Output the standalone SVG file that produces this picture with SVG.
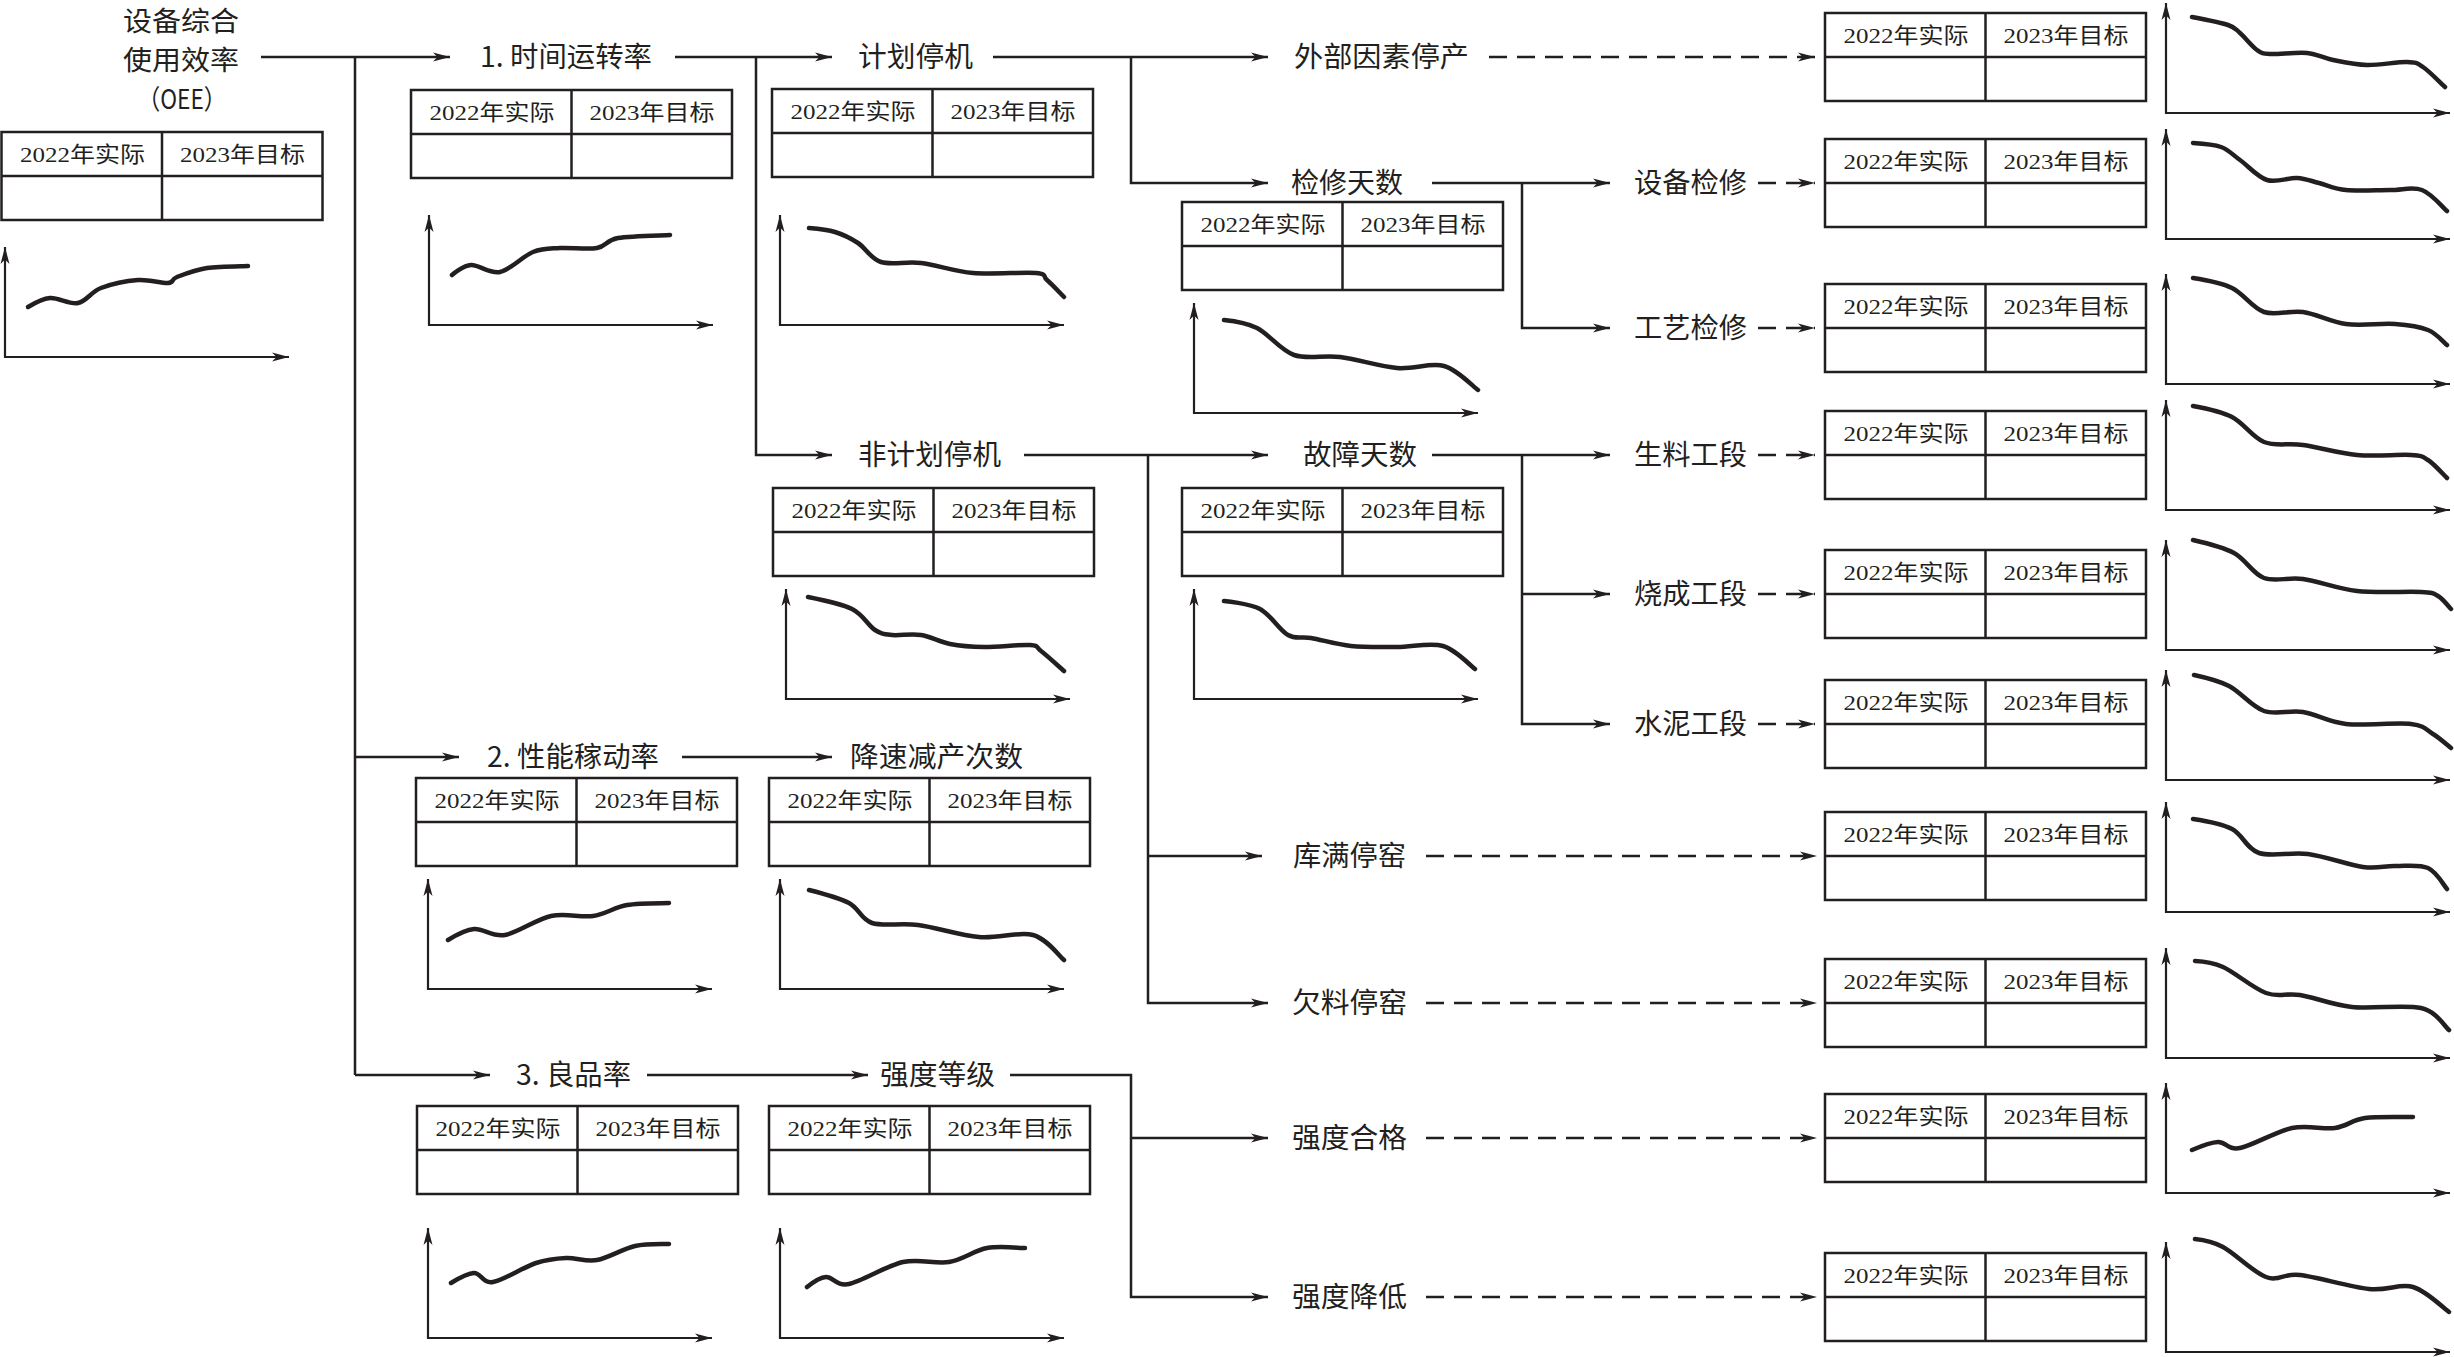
<svg xmlns="http://www.w3.org/2000/svg" width="2454" height="1357" viewBox="0 0 2454 1357">
<style>
.lbl{font-family:"Noto Sans CJK SC","Noto Sans",sans-serif;font-size:28px;fill:#231f20}
.th{font-family:"Liberation Serif","Noto Sans CJK SC",serif;font-size:22px;fill:#231f20;text-anchor:middle}
.ln{fill:none;stroke:#231f20;stroke-width:2.5}
.dash{stroke-dasharray:18 10}
.tb{fill:#fff;stroke:#231f20;stroke-width:2.5}
.tl{fill:none;stroke:#231f20;stroke-width:2.5}
.ax{fill:none;stroke:#231f20;stroke-width:2.2}
.cv{fill:none;stroke:#231f20;stroke-width:4.5;stroke-linecap:round;stroke-linejoin:round}
</style>
<defs>
<marker id="ar" markerUnits="userSpaceOnUse" markerWidth="20" markerHeight="12" refX="17" refY="5" orient="auto-start-reverse">
<path d="M0,0.5 L17,5 L0,9.5 L4.5,5 z" fill="#231f20"/>
</marker>
</defs>
<rect width="2454" height="1357" fill="#fff"/>

<g id="connectors">
<path class="ln" d="M261,57 H450" marker-end="url(#ar)"/>
<path class="ln" d="M355,57 V1075"/>
<path class="ln" d="M355,757 H459" marker-end="url(#ar)"/>
<path class="ln" d="M355,1075 H490" marker-end="url(#ar)"/>
<path class="ln" d="M675,57 H832" marker-end="url(#ar)"/>
<path class="ln" d="M756,57 V455 H832" marker-end="url(#ar)"/>
<path class="ln" d="M993,57 H1268" marker-end="url(#ar)"/>
<path class="ln" d="M1131,57 V183 H1268" marker-end="url(#ar)"/>
<path class="ln dash" d="M1489,57 H1815" marker-end="url(#ar)"/>
<path class="ln" d="M1432,183 H1610" marker-end="url(#ar)"/>
<path class="ln" d="M1522,183 V328 H1610" marker-end="url(#ar)"/>
<path class="ln dash" d="M1758,183 H1815" marker-end="url(#ar)"/>
<path class="ln dash" d="M1758,328 H1815" marker-end="url(#ar)"/>
<path class="ln" d="M1024,455 H1268" marker-end="url(#ar)"/>
<path class="ln" d="M1148,455 V1003 H1268" marker-end="url(#ar)"/>
<path class="ln" d="M1148,856 H1262" marker-end="url(#ar)"/>
<path class="ln" d="M1432,455 H1610" marker-end="url(#ar)"/>
<path class="ln" d="M1522,455 V724 H1610" marker-end="url(#ar)"/>
<path class="ln" d="M1522,594 H1610" marker-end="url(#ar)"/>
<path class="ln dash" d="M1758,455 H1815" marker-end="url(#ar)"/>
<path class="ln dash" d="M1758,594 H1815" marker-end="url(#ar)"/>
<path class="ln dash" d="M1758,724 H1815" marker-end="url(#ar)"/>
<path class="ln dash" d="M1426,856 H1817" marker-end="url(#ar)"/>
<path class="ln dash" d="M1426,1003 H1817" marker-end="url(#ar)"/>
<path class="ln" d="M682,757 H832" marker-end="url(#ar)"/>
<path class="ln" d="M647,1075 H868" marker-end="url(#ar)"/>
<path class="ln" d="M1010,1075 H1131 V1297 H1268" marker-end="url(#ar)"/>
<path class="ln" d="M1131,1138 H1268" marker-end="url(#ar)"/>
<path class="ln dash" d="M1426,1138 H1817" marker-end="url(#ar)"/>
<path class="ln dash" d="M1426,1297 H1817" marker-end="url(#ar)"/>
</g>

<!-- OEE -->
<g id="n-oee">
<text class="lbl" x="181" y="31" text-anchor="middle" style="font-size:27px" textLength="116" lengthAdjust="spacingAndGlyphs">设备综合</text>
<text class="lbl" x="181" y="70" text-anchor="middle" style="font-size:27px" textLength="116" lengthAdjust="spacingAndGlyphs">使用效率</text>
<text class="lbl" x="182" y="109" text-anchor="middle" style="font-size:27px" textLength="89" lengthAdjust="spacingAndGlyphs">（OEE）</text>
<g transform="translate(1.5,132)"><rect class="tb" width="321" height="88"/><path class="tl" d="M0,44 H321 M160.5,0 V88"/><text class="th" x="81" y="30" textLength="125" lengthAdjust="spacingAndGlyphs">2022年实际</text><text class="th" x="241" y="30" textLength="125" lengthAdjust="spacingAndGlyphs">2023年目标</text></g>
<g transform="translate(5,357)"><path class="ax" d="M0,-110 V0 H284" marker-start="url(#ar)" marker-end="url(#ar)"/><path class="cv" d="M23,-50 S36.7,-58.3 45,-59 S64.5,-52.3 73,-54 S86,-65.2 96,-69 S121.8,-76.2 133,-77 S156.5,-73.5 163,-74 S165.5,-77.5 172,-80 S190.2,-87.2 202,-89 S236.2,-90.7 243,-91"/></g>
</g>

<g id="n-time">
<text class="lbl" x="480" y="67" textLength="172" lengthAdjust="spacingAndGlyphs">1. 时间运转率</text>
<g transform="translate(411,90)"><rect class="tb" width="321" height="88"/><path class="tl" d="M0,44 H321 M160.5,0 V88"/><text class="th" x="81" y="30" textLength="125" lengthAdjust="spacingAndGlyphs">2022年实际</text><text class="th" x="241" y="30" textLength="125" lengthAdjust="spacingAndGlyphs">2023年目标</text></g>
<g transform="translate(429,325)"><path class="ax" d="M0,-110 V0 H284" marker-start="url(#ar)" marker-end="url(#ar)"/><path class="cv" d="M23,-50 S34,-59.5 42,-60 S60.7,-50.8 71,-53 S94,-69 104,-73 S120.3,-76.3 131,-77 S158.3,-75.3 168,-77 S176.8,-84.8 189,-87 S232.3,-89.5 241,-90"/></g>
</g>

<g id="n-plan">
<text class="lbl" x="858" y="67" textLength="115" lengthAdjust="spacingAndGlyphs">计划停机</text>
<g transform="translate(772,89)"><rect class="tb" width="321" height="88"/><path class="tl" d="M0,44 H321 M160.5,0 V88"/><text class="th" x="81" y="30" textLength="125" lengthAdjust="spacingAndGlyphs">2022年实际</text><text class="th" x="241" y="30" textLength="125" lengthAdjust="spacingAndGlyphs">2023年目标</text></g>
<g transform="translate(780,325)"><path class="ax" d="M0,-110 V0 H284" marker-start="url(#ar)" marker-end="url(#ar)"/><path class="cv" d="M29,-97 S46.8,-95.5 55,-93 S70.3,-87 78,-82 S90.5,-66.3 101,-63 S125.7,-63.8 141,-62 S173.8,-53.7 193,-52 S243.7,-53.2 256,-52 S262.3,-49 267,-45 S281.2,-30.8 284,-28"/></g>
</g>

<g id="n-ext">
<text class="lbl" x="1294" y="67" textLength="175" lengthAdjust="spacingAndGlyphs">外部因素停产</text>
<g transform="translate(1825,13)"><rect class="tb" width="321" height="88"/><path class="tl" d="M0,44 H321 M160.5,0 V88"/><text class="th" x="81" y="30" textLength="125" lengthAdjust="spacingAndGlyphs">2022年实际</text><text class="th" x="241" y="30" textLength="125" lengthAdjust="spacingAndGlyphs">2023年目标</text></g>
<g transform="translate(2166,113)"><path class="ax" d="M0,-110 V0 H284" marker-start="url(#ar)" marker-end="url(#ar)"/><path class="cv" d="M26,-96 S54,-90.7 62,-88 S69.2,-84.2 74,-80 S86,-66.5 91,-63 S95.7,-59.5 104,-59 S130.5,-61 141,-60 S157,-55 167,-53 S188.7,-48.3 201,-48 S231.7,-51.3 241,-51 S250.7,-50.2 257,-46 S275.3,-29.3 279,-26"/></g>
</g>

<g id="n-maint">
<text class="lbl" x="1291" y="193" textLength="112" lengthAdjust="spacingAndGlyphs">检修天数</text>
<g transform="translate(1182,202)"><rect class="tb" width="321" height="88"/><path class="tl" d="M0,44 H321 M160.5,0 V88"/><text class="th" x="81" y="30" textLength="125" lengthAdjust="spacingAndGlyphs">2022年实际</text><text class="th" x="241" y="30" textLength="125" lengthAdjust="spacingAndGlyphs">2023年目标</text></g>
<g transform="translate(1194,413)"><path class="ax" d="M0,-110 V0 H284" marker-start="url(#ar)" marker-end="url(#ar)"/><path class="cv" d="M30,-93 S51.3,-90.8 63,-85 S86.2,-62.8 100,-58 S128.8,-58.2 146,-56 S185.7,-46.5 203,-45 S236.5,-50.7 250,-47 S278.3,-27 284,-23"/></g>
</g>

<g id="n-equip">
<text class="lbl" x="1634" y="193" textLength="113" lengthAdjust="spacingAndGlyphs">设备检修</text>
<g transform="translate(1825,139)"><rect class="tb" width="321" height="88"/><path class="tl" d="M0,44 H321 M160.5,0 V88"/><text class="th" x="81" y="30" textLength="125" lengthAdjust="spacingAndGlyphs">2022年实际</text><text class="th" x="241" y="30" textLength="125" lengthAdjust="spacingAndGlyphs">2023年目标</text></g>
<g transform="translate(2166,239)"><path class="ax" d="M0,-110 V0 H284" marker-start="url(#ar)" marker-end="url(#ar)"/><path class="cv" d="M27,-96 S47.2,-94.8 55,-92 S66.3,-84.5 74,-79 S91.5,-62 101,-59 S122.3,-61.5 131,-61 S144.8,-58 153,-56 S168.2,-50.2 180,-49 S211.3,-49 224,-49 S246.5,-52.5 256,-49 S276.8,-31.5 281,-28"/></g>
</g>

<g id="n-proc">
<text class="lbl" x="1634" y="338" textLength="113" lengthAdjust="spacingAndGlyphs">工艺检修</text>
<g transform="translate(1825,284)"><rect class="tb" width="321" height="88"/><path class="tl" d="M0,44 H321 M160.5,0 V88"/><text class="th" x="81" y="30" textLength="125" lengthAdjust="spacingAndGlyphs">2022年实际</text><text class="th" x="241" y="30" textLength="125" lengthAdjust="spacingAndGlyphs">2023年目标</text></g>
<g transform="translate(2166,384)"><path class="ax" d="M0,-110 V0 H284" marker-start="url(#ar)" marker-end="url(#ar)"/><path class="cv" d="M27,-106 S54.2,-101.7 66,-96 S86.2,-76 98,-72 S123.3,-74 137,-72 S164.7,-62 180,-60 S215.3,-61 229,-60 S253.3,-57.5 262,-54 S277.8,-41.5 281,-39"/></g>
</g>

<g id="n-unplan">
<text class="lbl" x="858" y="465" textLength="143" lengthAdjust="spacingAndGlyphs">非计划停机</text>
<g transform="translate(773,488)"><rect class="tb" width="321" height="88"/><path class="tl" d="M0,44 H321 M160.5,0 V88"/><text class="th" x="81" y="30" textLength="125" lengthAdjust="spacingAndGlyphs">2022年实际</text><text class="th" x="241" y="30" textLength="125" lengthAdjust="spacingAndGlyphs">2023年目标</text></g>
<g transform="translate(786,699)"><path class="ax" d="M0,-110 V0 H284" marker-start="url(#ar)" marker-end="url(#ar)"/><path class="cv" d="M22,-102 S54.8,-95.5 66,-90 S82.3,-73.3 89,-69 S98.3,-64.8 106,-64 S125.3,-65.5 135,-64 S153.5,-57 164,-55 S184.7,-52.2 198,-52 S234.5,-54.7 244,-54 S249.3,-52.3 255,-48 S274.2,-31.3 278,-28"/></g>
</g>

<g id="n-fault">
<text class="lbl" x="1303" y="465" textLength="114" lengthAdjust="spacingAndGlyphs">故障天数</text>
<g transform="translate(1182,488)"><rect class="tb" width="321" height="88"/><path class="tl" d="M0,44 H321 M160.5,0 V88"/><text class="th" x="81" y="30" textLength="125" lengthAdjust="spacingAndGlyphs">2022年实际</text><text class="th" x="241" y="30" textLength="125" lengthAdjust="spacingAndGlyphs">2023年目标</text></g>
<g transform="translate(1194,699)"><path class="ax" d="M0,-110 V0 H284" marker-start="url(#ar)" marker-end="url(#ar)"/><path class="cv" d="M30,-98 S55.3,-95.7 66,-90 S85.5,-68.8 94,-64 S106.5,-62.8 117,-61 S142.7,-54.5 157,-53 S187.7,-52 203,-52 S236,-56.7 249,-53 S275.7,-33.8 281,-30"/></g>
</g>

<g id="n-raw">
<text class="lbl" x="1634" y="465" textLength="113" lengthAdjust="spacingAndGlyphs">生料工段</text>
<g transform="translate(1825,411)"><rect class="tb" width="321" height="88"/><path class="tl" d="M0,44 H321 M160.5,0 V88"/><text class="th" x="81" y="30" textLength="125" lengthAdjust="spacingAndGlyphs">2022年实际</text><text class="th" x="241" y="30" textLength="125" lengthAdjust="spacingAndGlyphs">2023年目标</text></g>
<g transform="translate(2166,510)"><path class="ax" d="M0,-110 V0 H284" marker-start="url(#ar)" marker-end="url(#ar)"/><path class="cv" d="M27,-104 S54.2,-99 66,-93 S86.2,-72.7 98,-68 S121.5,-67.2 137,-65 S173,-56.7 191,-55 S233.2,-55.8 245,-55 S256,-53.8 262,-50 S277.8,-35 281,-32"/></g>
</g>

<g id="n-burn">
<text class="lbl" x="1634" y="604" textLength="113" lengthAdjust="spacingAndGlyphs">烧成工段</text>
<g transform="translate(1825,550)"><rect class="tb" width="321" height="88"/><path class="tl" d="M0,44 H321 M160.5,0 V88"/><text class="th" x="81" y="30" textLength="125" lengthAdjust="spacingAndGlyphs">2022年实际</text><text class="th" x="241" y="30" textLength="125" lengthAdjust="spacingAndGlyphs">2023年目标</text></g>
<g transform="translate(2166,650)"><path class="ax" d="M0,-110 V0 H284" marker-start="url(#ar)" marker-end="url(#ar)"/><path class="cv" d="M27,-110 S56.2,-103.3 68,-97 S86.5,-76.3 98,-72 S121.5,-73.2 137,-71 S171.3,-61.2 191,-59 S241.5,-58.8 255,-58 S267,-56.8 272,-54 S282.8,-43.2 285,-41"/></g>
</g>

<g id="n-cement">
<text class="lbl" x="1634" y="734" textLength="113" lengthAdjust="spacingAndGlyphs">水泥工段</text>
<g transform="translate(1825,680)"><rect class="tb" width="321" height="88"/><path class="tl" d="M0,44 H321 M160.5,0 V88"/><text class="th" x="81" y="30" textLength="125" lengthAdjust="spacingAndGlyphs">2022年实际</text><text class="th" x="241" y="30" textLength="125" lengthAdjust="spacingAndGlyphs">2023年目标</text></g>
<g transform="translate(2166,780)"><path class="ax" d="M0,-110 V0 H284" marker-start="url(#ar)" marker-end="url(#ar)"/><path class="cv" d="M28,-105 S51.3,-100 63,-94 S85.7,-73.3 98,-69 S123.3,-70.2 137,-68 S162,-58 180,-56 S230.5,-57.7 245,-56 S260.3,-50 267,-46 S282,-34.3 285,-32"/></g>
</g>

<g id="n-full">
<text class="lbl" x="1293" y="866" textLength="113" lengthAdjust="spacingAndGlyphs">库满停窑</text>
<g transform="translate(1825,812)"><rect class="tb" width="321" height="88"/><path class="tl" d="M0,44 H321 M160.5,0 V88"/><text class="th" x="81" y="30" textLength="125" lengthAdjust="spacingAndGlyphs">2022年实际</text><text class="th" x="241" y="30" textLength="125" lengthAdjust="spacingAndGlyphs">2023年目标</text></g>
<g transform="translate(2166,912)"><path class="ax" d="M0,-110 V0 H284" marker-start="url(#ar)" marker-end="url(#ar)"/><path class="cv" d="M27,-93 S55,-88.7 66,-83 S80.3,-63.2 93,-59 S124.7,-60.3 142,-58 S182.5,-47 197,-45 S218.2,-46.2 229,-46 S253.3,-47.8 262,-44 S277.8,-26.5 281,-23"/></g>
</g>

<g id="n-short">
<text class="lbl" x="1292" y="1013" textLength="115" lengthAdjust="spacingAndGlyphs">欠料停窑</text>
<g transform="translate(1825,959)"><rect class="tb" width="321" height="88"/><path class="tl" d="M0,44 H321 M160.5,0 V88"/><text class="th" x="81" y="30" textLength="125" lengthAdjust="spacingAndGlyphs">2022年实际</text><text class="th" x="241" y="30" textLength="125" lengthAdjust="spacingAndGlyphs">2023年目标</text></g>
<g transform="translate(2166,1058)"><path class="ax" d="M0,-110 V0 H284" marker-start="url(#ar)" marker-end="url(#ar)"/><path class="cv" d="M29,-97 S45.2,-96.3 57,-91 S87.2,-69.7 100,-65 S119.7,-65.3 134,-63 S165.8,-53.2 186,-51 S238.8,-53.8 255,-50 S278.3,-31.7 283,-28"/></g>
</g>

<g id="n-perf">
<text class="lbl" x="487" y="767" textLength="172" lengthAdjust="spacingAndGlyphs">2. 性能稼动率</text>
<g transform="translate(416,778)"><rect class="tb" width="321" height="88"/><path class="tl" d="M0,44 H321 M160.5,0 V88"/><text class="th" x="81" y="30" textLength="125" lengthAdjust="spacingAndGlyphs">2022年实际</text><text class="th" x="241" y="30" textLength="125" lengthAdjust="spacingAndGlyphs">2023年目标</text></g>
<g transform="translate(428,989)"><path class="ax" d="M0,-110 V0 H284" marker-start="url(#ar)" marker-end="url(#ar)"/><path class="cv" d="M20,-49 S36.5,-59.2 46,-60 S64.2,-51.8 77,-54 S108.3,-69.8 123,-73 S152.3,-71.2 165,-73 S186.3,-81.8 199,-84 S234,-85.7 241,-86"/></g>
</g>

<g id="n-slow">
<text class="lbl" x="850" y="767" textLength="173" lengthAdjust="spacingAndGlyphs">降速减产次数</text>
<g transform="translate(769,778)"><rect class="tb" width="321" height="88"/><path class="tl" d="M0,44 H321 M160.5,0 V88"/><text class="th" x="81" y="30" textLength="125" lengthAdjust="spacingAndGlyphs">2022年实际</text><text class="th" x="241" y="30" textLength="125" lengthAdjust="spacingAndGlyphs">2023年目标</text></g>
<g transform="translate(780,989)"><path class="ax" d="M0,-110 V0 H284" marker-start="url(#ar)" marker-end="url(#ar)"/><path class="cv" d="M29,-99 S58.5,-91.5 69,-86 S80.5,-69.7 92,-66 S120.2,-66.3 138,-64 S179.8,-53.7 199,-52 S238.8,-57.8 253,-54 S278.8,-33.2 284,-29"/></g>
</g>

<g id="n-qual">
<text class="lbl" x="516" y="1085" textLength="115" lengthAdjust="spacingAndGlyphs">3. 良品率</text>
<g transform="translate(417,1106)"><rect class="tb" width="321" height="88"/><path class="tl" d="M0,44 H321 M160.5,0 V88"/><text class="th" x="81" y="30" textLength="125" lengthAdjust="spacingAndGlyphs">2022年实际</text><text class="th" x="241" y="30" textLength="125" lengthAdjust="spacingAndGlyphs">2023年目标</text></g>
<g transform="translate(428,1338)"><path class="ax" d="M0,-110 V0 H284" marker-start="url(#ar)" marker-end="url(#ar)"/><path class="cv" d="M23,-55 S39,-64.8 46,-65 S54.7,-54.3 65,-56 S95.8,-71 108,-75 S127.8,-79.5 138,-80 S157.5,-76 169,-78 S195,-89.3 207,-92 S235.3,-93.7 241,-94"/></g>
</g>

<g id="n-grade">
<text class="lbl" x="880" y="1085" textLength="115" lengthAdjust="spacingAndGlyphs">强度等级</text>
<g transform="translate(769,1106)"><rect class="tb" width="321" height="88"/><path class="tl" d="M0,44 H321 M160.5,0 V88"/><text class="th" x="81" y="30" textLength="125" lengthAdjust="spacingAndGlyphs">2022年实际</text><text class="th" x="241" y="30" textLength="125" lengthAdjust="spacingAndGlyphs">2023年目标</text></g>
<g transform="translate(780,1338)"><path class="ax" d="M0,-110 V0 H284" marker-start="url(#ar)" marker-end="url(#ar)"/><path class="cv" d="M27,-51 S39,-60.5 46,-61 S56.2,-51.5 69,-54 S106.3,-72.3 123,-76 S155,-73.7 169,-76 S194.3,-87.7 207,-90 S238.7,-90 245,-90"/></g>
</g>

<g id="n-pass">
<text class="lbl" x="1292" y="1148" textLength="115" lengthAdjust="spacingAndGlyphs">强度合格</text>
<g transform="translate(1825,1094)"><rect class="tb" width="321" height="88"/><path class="tl" d="M0,44 H321 M160.5,0 V88"/><text class="th" x="81" y="30" textLength="125" lengthAdjust="spacingAndGlyphs">2022年实际</text><text class="th" x="241" y="30" textLength="125" lengthAdjust="spacingAndGlyphs">2023年目标</text></g>
<g transform="translate(2166,1193)"><path class="ax" d="M0,-110 V0 H284" marker-start="url(#ar)" marker-end="url(#ar)"/><path class="cv" d="M26,-43 S44,-50.7 52,-51 S61.7,-42.7 74,-45 S110.2,-61.7 126,-65 S156.8,-63.3 169,-65 S186,-73.2 199,-75 S239,-75.8 247,-76"/></g>
</g>

<g id="n-low">
<text class="lbl" x="1292" y="1307" textLength="115" lengthAdjust="spacingAndGlyphs">强度降低</text>
<g transform="translate(1825,1253)"><rect class="tb" width="321" height="88"/><path class="tl" d="M0,44 H321 M160.5,0 V88"/><text class="th" x="81" y="30" textLength="125" lengthAdjust="spacingAndGlyphs">2022年实际</text><text class="th" x="241" y="30" textLength="125" lengthAdjust="spacingAndGlyphs">2023年目标</text></g>
<g transform="translate(2166,1352)"><path class="ax" d="M0,-110 V0 H284" marker-start="url(#ar)" marker-end="url(#ar)"/><path class="cv" d="M29,-113 S45.2,-111.3 57,-105 S87.2,-79.7 100,-75 S116.8,-79 134,-77 S184.2,-65 203,-63 S233.7,-68.8 247,-65 S277,-44.2 283,-40"/></g>
</g>
</svg>
